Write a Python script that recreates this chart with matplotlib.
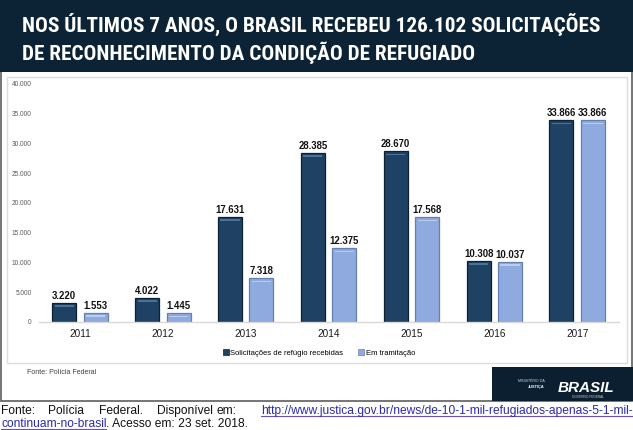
import matplotlib
matplotlib.use('Agg')
import matplotlib.pyplot as plt
from matplotlib.patches import Rectangle, Patch
from matplotlib.lines import Line2D
from matplotlib import font_manager as fm
import numpy as np

# ---------------- data ----------------
years = ['2011', '2012', '2013', '2014', '2015', '2016', '2017']
recebidas = [3220, 4022, 17631, 28385, 28670, 10308, 33866]
tramitacao = [1553, 1445, 7318, 12375, 17568, 10037, 33866]
series_names = ['Solicitações de refúgio recebidas', 'Em tramitação']
y_ticks = [0, 5000, 10000, 15000, 20000, 25000, 30000, 35000, 40000]
title_lines = ['NOS ÚLTIMOS 7 ANOS, O BRASIL RECEBEU 126.102 SOLICITAÇÕES',
               'DE RECONHECIMENTO DA CONDIÇÃO DE REFUGIADO']
source_inner = 'Fonte: Polícia Federal'
caption_words = ['Fonte:', 'Polícia', 'Federal.', 'Disponível', 'em:']
caption_link1 = 'http://www.justica.gov.br/news/de-10-1-mil-refugiados-apenas-5-1-mil-'
caption_link2 = 'continuam-no-brasil'
caption_rest = '. Acesso em: 23 set. 2018.'


def fmt(v):
    return f'{v:,}'.replace(',', '.')


W, H = 633, 430
fig = plt.figure(figsize=(W / 100, H / 100), dpi=100)
fig.patch.set_facecolor('white')


def fx(x):
    return x / W


def fy(y):
    return 1 - y / H


def rect(x0, y0, x1, y1, **kw):
    r = Rectangle((fx(x0), fy(y1)), fx(x1) - fx(x0), (y1 - y0) / H,
                  transform=fig.transFigure, **kw)
    fig.patches.append(r)
    return r


SANS = 'Liberation Sans'

# condensed font for title
names = {f.name for f in fm.fontManager.ttflist}
title_family = 'DejaVu Sans'
for cand in ['Roboto Condensed', 'Liberation Sans Narrow', 'Open Sans Condensed',
             'DejaVu Sans Condensed']:
    if cand in names:
        title_family = cand
        break

# slide frame and title band
rect(1, 0, 631.5, 401, facecolor='white', edgecolor='#6a6a6a', lw=1.3, zorder=-3)
rect(0, 0, 633, 72, facecolor='#0c2235', edgecolor='none', zorder=-2)
rect(7, 77, 627, 363, facecolor='white', edgecolor='#dcdcdc', lw=1.0, zorder=-2)

# title
renderer = fig.canvas.get_renderer()
t1 = fig.text(fx(22), fy(32), title_lines[0], color='white', fontsize=20,
              weight='black', family=title_family, fontstretch='condensed',
              va='baseline', ha='left', zorder=5)
bb = t1.get_window_extent(renderer)
size = 20 * 580 / bb.width
t1.set_fontsize(size)
fig.text(fx(22), fy(60), title_lines[1], color='white', fontsize=size,
         weight='black', family=title_family, fontstretch='condensed',
         va='baseline', ha='left', zorder=5)

# axes
ax = fig.add_axes([fx(38.6), fy(322), 580 / W, 238 / H])
ax.set_zorder(3)
ax.set_facecolor('none')
x = np.arange(len(years))
w = 0.29
off = 0.19
rec = np.array(recebidas)
tra = np.array(tramitacao)
ax.bar(x - off, rec, w, color='#1f4164', edgecolor='#0e2134', lw=0.9, zorder=2)
ax.bar(x + off, tra, w, color='#8eaadf', edgecolor='#6580ad', lw=0.9, zorder=2)
# bevel highlight near top
ax.bar(x - off, 280, w * 0.8, bottom=rec - 650, color='#4d7299', lw=0, zorder=3)
ax.bar(x + off, 280, w * 0.8, bottom=tra - 650, color='#b9cdf0', lw=0, zorder=3)

for xi, v in zip(x - off, rec):
    ax.text(xi, v + 350, fmt(v), ha='center', va='bottom', fontsize=6.9,
            weight='bold', family=SANS, color='#111111')
for xi, v in zip(x + off, tra):
    ax.text(xi, v + 350, fmt(v), ha='center', va='bottom', fontsize=6.9,
            weight='bold', family=SANS, color='#111111')

ax.set_xlim(-0.5, len(years) - 0.5)
ax.set_ylim(0, 40000)
ax.set_yticks(y_ticks, [fmt(v) for v in y_ticks])
ax.set_xticks(x, years)
ax.tick_params(axis='y', length=0, pad=5, labelsize=4.7, labelcolor='#5a5a5a')
ax.tick_params(axis='x', length=0, pad=5, labelsize=7.2, labelcolor='#1a1a1a')
for lab in ax.get_xticklabels() + ax.get_yticklabels():
    lab.set_family(SANS)
for s in ['left', 'top', 'right']:
    ax.spines[s].set_visible(False)
ax.spines['bottom'].set_color('#d9d9d9')
ax.spines['bottom'].set_linewidth(1.0)

# legend
handles = [Patch(facecolor='#1f4164', edgecolor='#0e2134', lw=0.5),
           Patch(facecolor='#8eaadf', edgecolor='#6580ad', lw=0.5)]
fig.legend(handles=handles, labels=series_names, loc='center',
           bbox_to_anchor=(fx(319), fy(353)), ncol=2, frameon=False,
           prop={'family': SANS, 'size': 5.5}, handlelength=0.75,
           handleheight=0.75, handletextpad=0.2, columnspacing=2.0,
           borderpad=0)

# inner source
fig.text(fx(27), fy(372), source_inner, fontsize=5, color='#404040',
         va='center', ha='left', family=SANS)

# logo box
rect(492, 367, 633, 401, facecolor='#0c1f30', edgecolor='none', zorder=2)
fig.text(fx(545), fy(381), 'MINISTÉRIO DA', color='#d0d0d0', fontsize=2.6,
         ha='right', va='center', family=SANS, zorder=6)
fig.text(fx(545), fy(387), 'JUSTIÇA', color='white', fontsize=2.8, weight='bold',
         ha='right', va='center', family=SANS, zorder=6)
fig.text(fx(586), fy(388), 'BRASIL', color='white', fontsize=11, weight='bold',
         style='italic', ha='center', va='center', family=SANS, zorder=6)
fig.text(fx(588), fy(396.5), 'GOVERNO FEDERAL', color='#cccccc', fontsize=2.3,
         ha='center', va='center', family=SANS, zorder=6)

# caption below slide
link_color = '#2b2bb0'
cl = fig.text(fx(261), fy(414), caption_link1, fontsize=10, family=SANS,
              color=link_color, va='baseline', ha='left')
bb = cl.get_window_extent(renderer)
csize = 10 * 371 / bb.width
cl.set_fontsize(csize)
word_x = [1, 48, 99, 157, 216]
for wx, wd in zip(word_x, caption_words):
    fig.text(fx(wx), fy(414), wd, fontsize=csize, family=SANS, color='#111111',
             va='baseline', ha='left')
cl2 = fig.text(fx(1), fy(427), caption_link2, fontsize=csize, family=SANS,
               color=link_color, va='baseline', ha='left')
b2 = cl2.get_window_extent(renderer)
fig.text((b2.x1) / (W), fy(427), caption_rest, fontsize=csize, family=SANS,
         color='#111111', va='baseline', ha='left')
for t in [cl, cl2]:
    b = t.get_window_extent(renderer)
    yb = b.y0 + 1.5
    fig.lines.append(Line2D([b.x0 / W, b.x1 / W], [yb / H, yb / H],
                            transform=fig.transFigure, color='#6a4fbf', lw=0.8))

fig.savefig('out.png', dpi=100, facecolor='white')
